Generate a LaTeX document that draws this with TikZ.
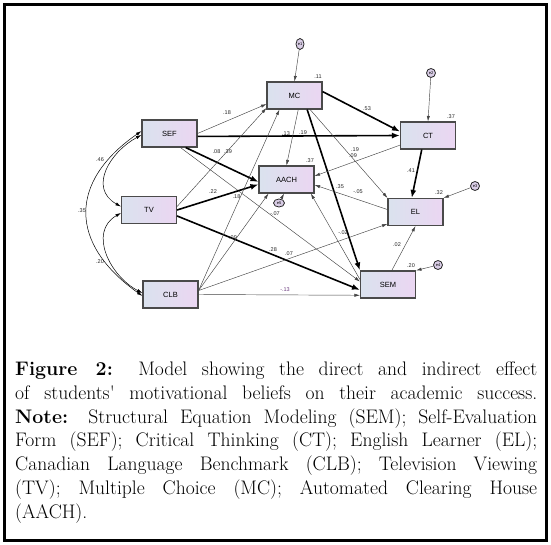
\documentclass[tikz,border=0pt]{standalone}
\usepackage{fontspec}
\setsansfont{Liberation Sans}
\usepackage{tikz}
\usetikzlibrary{arrows.meta,shapes.geometric}
\definecolor{boxleft}{HTML}{DAE2EE}
\definecolor{boxright}{HTML}{EBD6F2}
\definecolor{boxline}{HTML}{4A4A4A}
\definecolor{errfill}{HTML}{D9CDE6}
\definecolor{thinline}{HTML}{444444}
\definecolor{negcolor}{HTML}{6B3A7E}

\begin{document}
\begin{tikzpicture}[x=1pt,y=-1pt,
  varbox/.style={draw=boxline,line width=1.1pt,left color=boxleft,right color=boxright,
    minimum width=55pt,minimum height=27pt,inner sep=0pt,
    font=\sffamily\fontsize{7.5}{8}\selectfont},
  errcirc/.style={ellipse,draw=black!85,line width=0.8pt,fill=errfill,inner sep=0pt,
    minimum width=9pt,minimum height=9pt,font=\sffamily\fontsize{4}{4}\selectfont},
  effect/.style={draw=thinline,line width=0.45pt,-{Latex[length=5.5pt,width=3.2pt]}},
  strongeffect/.style={draw=black,line width=1.6pt,-{Latex[length=8pt,width=6pt]}},
  corr/.style={draw=black,line width=0.5pt,
    {Latex[length=5.5pt,width=3.2pt]}-{Latex[length=5.5pt,width=3.2pt]}},
  coef/.style={inner sep=0pt,font=\sffamily\fontsize{5.5}{6}\selectfont,text=black!85}]
\useasboundingbox (0,0) rectangle (551,545);
\draw[line width=2.2pt] (4.5,4.5) rectangle (546.5,540.5);

% observed variables
\node[varbox] (mc) at (294.5,95.5) {MC};
\node[varbox] (sef) at (169.5,133.5) {SEF};
\node[varbox] (ct) at (428,135.5) {CT};
\node[varbox] (aach) at (286.5,179.5) {AACH};
\node[varbox] (tv) at (149,210) {TV};
\node[varbox] (clb) at (170.5,294.5) {CLB};
\node[varbox] (el) at (415.5,212) {EL};
\node[varbox] (sem) at (388,284.5) {SEM};

% error terms
\node[errcirc,minimum width=8pt,minimum height=11pt] (e1) at (300,44) {e1};
\node[errcirc] (e2) at (431,73) {e2};
\node[errcirc] (e3) at (475,186) {e3};
\node[errcirc] (e4) at (438,265) {e4};
\node[errcirc,minimum width=11pt,minimum height=8pt] (e5) at (279,203) {e5};

\draw[effect] (e1) -- (mc.north);
\draw[effect] (e2) -- (ct.north);
\draw[effect] (e3) -- (el.north east);
\draw[effect] (e4) -- (sem.north east);
\draw[effect] (e5) -- (aach.-100);

% paths
\draw[effect] (sef.east) -- (mc.197);
\draw[strongeffect] (sef.-6) -- (ct.west);
\draw[strongeffect] (sef.-41) -- (aach.185);
\draw[effect] (sef.-52) -- (sem.174);
\draw[effect] (tv.7) -- (mc.204);
\draw[strongeffect] (tv.east) -- (aach.190);
\draw[strongeffect] (tv.-12) -- (sem.191);
\draw[effect] (clb.8) -- (mc.-137);
\draw[effect] (clb.8) -- (aach.-142);
\draw[effect] (clb.8) -- (el.203);
\draw[effect] (clb.east) -- (sem.201);
\draw[strongeffect] (mc.8) -- (ct.172);
\draw[effect] (mc.-75) -- (aach.north);
\draw[strongeffect] (mc.-48) -- (sem.north west);
\draw[effect] (mc.-42) -- (el.north west);
\draw[effect] (ct.199) -- (aach.7);
\draw[strongeffect] (ct.-114) -- (el.105);
\draw[effect] (el.175) -- (aach.-11);
\draw[effect] (sem.170) -- (aach.-30);
\draw[effect] (sem.75) -- (el.south);

% covariances
\draw[corr] (sef.183) .. controls (110,152) and (88,188) .. (tv.173);
\draw[corr] (tv.186) .. controls (88,232) and (110,276) .. (clb.177);
\draw[corr] (sef.175) .. controls (68,182) and (69,244) .. (clb.183);

% estimates
\node[coef] (r-mc) at (318,77) {.11};
\node[coef] (r-ct) at (451,117) {.37};
\node[coef] (r-aach) at (310,161) {.37};
\node[coef] (r-el) at (439,193) {.32};
\node[coef] (r-sem) at (411,266) {.20};
\node[coef] (b-sef-mc) at (227,113) {.18};
\node[coef] (b-sef-ct) at (286,134) {.13};
\node[coef] (b-mc-aach) at (303,133) {.19};
\node[coef] (b-tv-mc) at (216.5,152) {.08};
\node[coef] (b-sef-aach) at (228,152) {.39};
\node[coef] (b-mc-ct) at (367,109) {.53};
\node[coef] (b-mc-el) at (355,150) {.19};
\node[coef] (b-ct-aach) at (353,156) {.09};
\node[coef] (b-ct-el) at (411,171) {.41};
\node[coef] (b-mc-sem) at (340,187) {.35};
\node[coef] (b-el-aach) at (358,192) {-.05};
\node[coef] (b-tv-aach) at (213,192) {.22};
\node[coef] (b-clb-mc) at (236.5,197) {.18};
\node[coef] (b-sef-sem) at (275,214) {-.07};
\node[coef] (b-clb-aach) at (233,238) {.09};
\node[coef] (b-sem-aach) at (343,233) {-.02};
\node[coef] (b-tv-sem) at (273,250) {.28};
\node[coef] (b-clb-el) at (289,254) {.07};
\node[coef] (b-sem-el) at (397,245) {.02};
\node[coef,text=negcolor] (b-clb-sem) at (285,290) {-.13};
\node[coef] (c-sef-tv) at (100,160) {.46};
\node[coef] (c-sef-clb) at (82,211) {.35};
\node[coef] (c-tv-clb) at (100,262) {.20};

% caption
\node[anchor=north west,inner sep=0pt,text width=522pt,align=justify,
      font=\fontsize{19.6}{23.8}\selectfont] (caption) at (15,361.5) {%
  \noindent\hyphenpenalty=10000\exhyphenpenalty=10000
  \textbf{Figure 2:} Model showing the direct and indirect effect\linebreak
  of students\textquotesingle{} motivational beliefs on their academic success.\linebreak
  \textbf{Note:} Structural Equation Modeling (SEM); Self-Evaluation\linebreak
  Form (SEF); Critical Thinking (CT); English Learner (EL);\linebreak
  Canadian Language Benchmark (CLB); Television Viewing\linebreak
  (TV); Multiple Choice (MC); Automated Clearing House\linebreak
  (AACH).
};
\end{tikzpicture}
\end{document}
